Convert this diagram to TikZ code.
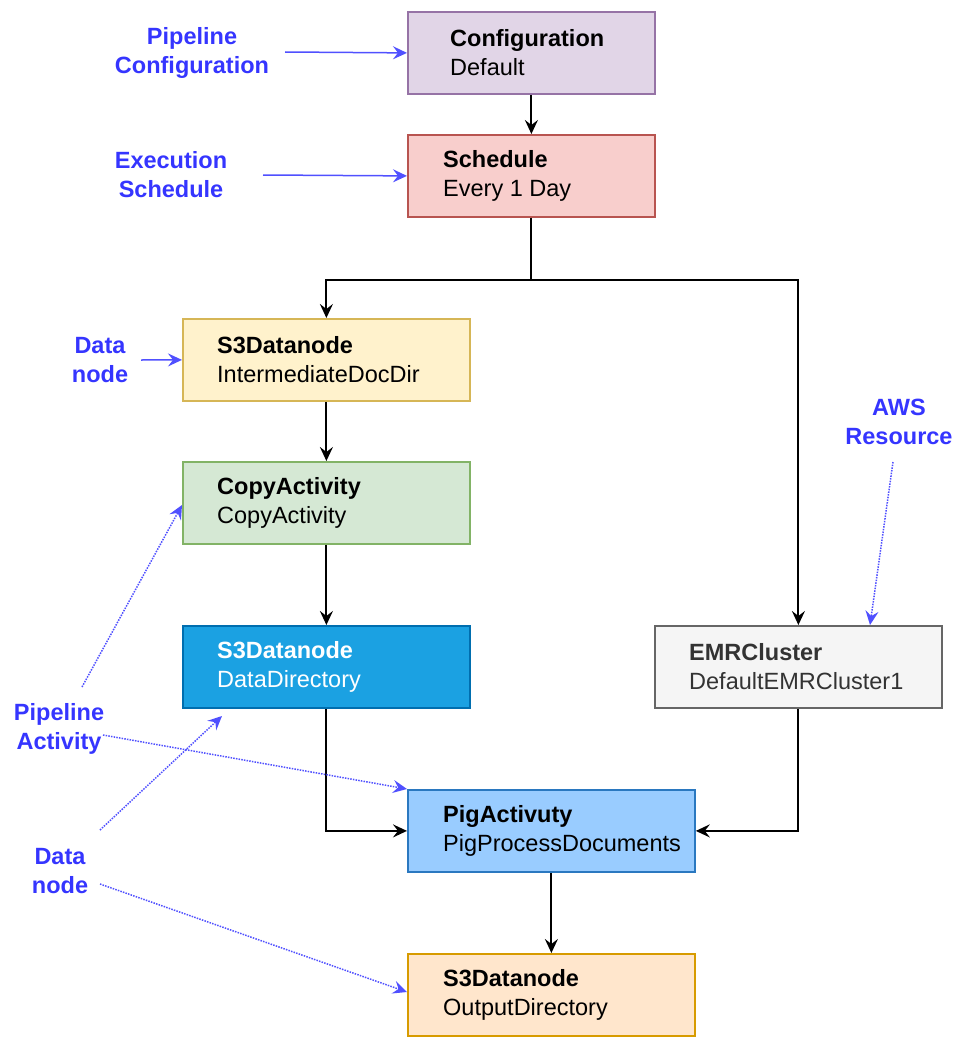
\documentclass[tikz,border=0pt]{standalone}
\usepackage{fontspec}
\setmainfont{Liberation Sans}
\usetikzlibrary{arrows.meta}
\definecolor{lbl}{HTML}{3535FF}
\definecolor{lblline}{HTML}{5050FF}
\definecolor{confF}{HTML}{E1D5E7}\definecolor{confD}{HTML}{9673A6}
\definecolor{schF}{HTML}{F8CECC}\definecolor{schD}{HTML}{B85450}
\definecolor{ylwF}{HTML}{FFF2CC}\definecolor{ylwD}{HTML}{D6B656}
\definecolor{grnF}{HTML}{D5E8D4}\definecolor{grnD}{HTML}{82B366}
\definecolor{bluF}{HTML}{1BA1E2}\definecolor{bluD}{HTML}{006EAF}
\definecolor{gryF}{HTML}{F5F5F5}\definecolor{gryD}{HTML}{666666}
\definecolor{gryT}{HTML}{333333}
\definecolor{ltbF}{HTML}{99CCFF}\definecolor{ltbD}{HTML}{2A78C0}
\definecolor{orgF}{HTML}{FFE6CC}\definecolor{orgD}{HTML}{D79B00}
\begin{document}
\begin{tikzpicture}[x=1pt,y=-1pt,
  font=\fontsize{23.5}{29}\selectfont,
  box/.style={rectangle, line width=1.8pt, minimum height=82pt, anchor=north west, inner sep=0pt},
  wbox/.style={box, minimum width=287pt},
  nbox/.style={box, minimum width=247pt},
  txt/.style={anchor=west, align=left, inner sep=0pt},
  conn/.style={line width=2pt, -{Stealth[length=14pt,width=13pt,inset=5pt]}},
  lab/.style={text=lbl, font=\fontsize{23.5}{29}\selectfont\bfseries, align=center, inner sep=0pt},
  bconn/.style={draw=lblline, line width=1.5pt, -{Stealth[length=14pt,width=13pt,inset=5pt]}, color=lblline},
  dconn/.style={bconn, dash pattern=on 1.5pt off 1.2pt}
]
\useasboundingbox (0,0) rectangle (961,1038);

% boxes
\node[nbox, fill=confF, draw=confD] (conf) at (407,11) {};
\node[nbox, fill=schF, draw=schD] (sched) at (407,134) {};
\node[wbox, fill=ylwF, draw=ylwD] (s3a) at (182,318) {};
\node[wbox, fill=grnF, draw=grnD] (copy) at (182,461) {};
\node[wbox, fill=bluF, draw=bluD] (dd) at (182,625) {};
\node[wbox, fill=gryF, draw=gryD] (emr) at (654,625) {};
\node[wbox, fill=ltbF, draw=ltbD] (pig) at (407,789) {};
\node[wbox, fill=orgF, draw=orgD] (out) at (407,953) {};

% box texts
\node[txt] (conft) at ([xshift=43pt]conf.west) {\textbf{Configuration}\\Default};
\node[txt] (schedt) at ([xshift=36pt]sched.west) {\textbf{Schedule}\\Every 1 Day};
\node[txt] (s3at) at ([xshift=35pt]s3a.west) {\textbf{S3Datanode}\\IntermediateDocDir};
\node[txt] (copyt) at ([xshift=35pt]copy.west) {\textbf{CopyActivity}\\CopyActivity};
\node[txt, text=white] (ddt) at ([xshift=35pt]dd.west) {\textbf{S3Datanode}\\DataDirectory};
\node[txt, text=gryT] (emrt) at ([xshift=35pt]emr.west) {\textbf{EMRCluster}\\DefaultEMRCluster1};
\node[txt] (pigt) at ([xshift=36pt]pig.west) {\textbf{PigActivuty}\\PigProcessDocuments};
\node[txt] (outt) at ([xshift=36pt]out.west) {\textbf{S3Datanode}\\OutputDirectory};

% black connectors
\draw[conn] (conf.south) -- (sched.north);
\draw[conn] (sched.south) -- ++(0,62) -| (s3a.north);
\draw[conn] (sched.south) -- ++(0,62) -| (emr.north);
\draw[conn] (s3a.south) -- (copy.north);
\draw[conn] (copy.south) -- (dd.north);
\draw[conn] (dd.south) |- (pig.west);
\draw[conn] (emr.south) |- (pig.east);
\draw[conn] (pig.south) -- (out.north);

% blue labels
\node[lab] (lpc) at (192,53) {Pipeline\\Configuration};
\node[lab] (les) at (171,175) {Execution\\Schedule};
\node[lab] (ldn1) at (100,360) {Data\\node};
\node[lab] (laws) at (899,422) {AWS\\Resource};
\node[lab] (lpa) at (59,729) {Pipeline\\Activity};
\node[lab] (ldn2) at (60,871) {Data\\node};

% blue connectors
\coordinate (pcs) at (285,52);
\coordinate (ess) at (263,175);
\coordinate (dns) at (141,360);
\coordinate (awss) at (893,462);
\coordinate (pa1) at (82,687);
\coordinate (pa2) at (103,735);
\coordinate (dn1) at (100,830);
\coordinate (dn2) at (100,884);
\coordinate (copyin) at (182,505);
\coordinate (ddin) at (222,716);
\coordinate (emrin) at (870,625);
\coordinate (outin) at (407,992);

\draw[bconn] (pcs) -- (conf.west);
\draw[bconn] (ess) -- (sched.west);
\draw[bconn] (dns) -- (s3a.west);
\draw[dconn] (awss) -- (emrin);
\draw[dconn] (pa1) -- (copyin);
\draw[dconn] (pa2) -- (pig.north west);
\draw[dconn] (dn1) -- (ddin);
\draw[dconn] (dn2) -- (outin);
\end{tikzpicture}
\end{document}
